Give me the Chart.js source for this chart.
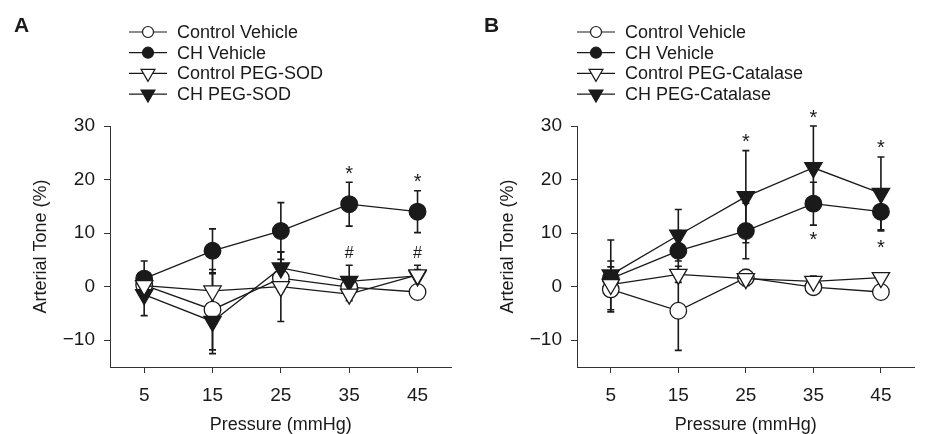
<!DOCTYPE html>
<html>
<head>
<meta charset="utf-8">
<script src="https://cdn.jsdelivr.net/npm/chart.js@4.4.0/dist/chart.umd.min.js"></script>
<style>
  html, body { margin: 0; padding: 0; background: #fff; }
  body { width: 926px; height: 434px; position: relative; overflow: hidden; }
  .panel { position: absolute; top: 0; height: 434px; }
  #panelA { left: 0; width: 463px; }
  #panelB { left: 467px; width: 459px; }
</style>
</head>
<body>
<div class="panel" id="panelA"><canvas id="chartA" width="463" height="434"></canvas></div>
<div class="panel" id="panelB"><canvas id="chartB" width="459" height="434"></canvas></div>
<script>
// Données
const pressures = [5, 15, 25, 35, 45];
const xTicks = [5, 15, 25, 35, 45];
const yTicks = [-10, 0, 10, 20, 30];

// Panneau A
const aControlVehicle = [0.3, -4.3, 1.6, -0.1, -1.0];
const aControlVehicleErr = [1.5, 7.5, 2.5, 1.5, 0.8];
const aChVehicle = [1.5, 6.7, 10.4, 15.4, 14.0];
const aChVehicleErr = [3.3, 4.1, 5.3, 4.1, 3.9];
const aControlSod = [0.2, -0.8, 0.0, -1.4, 2.2];
const aControlSodErr = [1.2, 3.2, 6.5, 1.2, 1.0];
const aChSod = [-1.5, -6.5, 3.5, 1.0, 2.0];
const aChSodErr = [3.9, 6.0, 3.0, 3.0, 2.0];
const aMarkX = [35, 45, 35, 45];
const aMarkY = [21.8, 20.2, 6.4, 6.4];
const aMarkText = ['*', '*', '#', '#'];

// Panneau B
const bControlVehicle = [-0.5, -4.5, 1.7, -0.1, -1.0];
const bControlVehicleErr = [4.2, 7.4, 1.5, 1.0, 0.5];
const bChVehicle = [1.5, 6.7, 10.4, 15.5, 14.0];
const bChVehicleErr = [3.3, 3.8, 5.2, 4.0, 3.6];
const bControlCat = [0.4, 2.3, 1.5, 1.0, 1.7];
const bControlCatErr = [1.5, 1.5, 1.0, 1.0, 0.4];
const bChCat = [2.2, 9.6, 16.8, 22.2, 17.4];
const bChCatErr = [6.5, 4.8, 8.6, 7.8, 6.8];
const bMarkX = [25, 35, 35, 45, 45];
const bMarkY = [27.7, 32.2, 9.5, 26.6, 7.9];
const bMarkText = ['*', '*', '*', '*', '*'];

const fontFamily = "'Liberation Sans', Arial, sans-serif";
const ink = '#1a1a1a';
Chart.defaults.font.family = fontFamily;

// Barres d'erreur (sous les courbes)
const errorBarPlugin = {
  id: 'errorBars',
  beforeDatasetsDraw(chart) {
    const ctx = chart.ctx;
    const yScale = chart.scales.y;
    ctx.save();
    ctx.strokeStyle = ink;
    ctx.lineWidth = 1.6;
    chart.data.datasets.forEach((ds, i) => {
      const meta = chart.getDatasetMeta(i);
      meta.data.forEach((pt, j) => {
        const v = ds.data[j].y;
        const err = ds.errors[j];
        const yTop = yScale.getPixelForValue(v + err);
        const yBot = yScale.getPixelForValue(v - err);
        ctx.beginPath();
        ctx.moveTo(pt.x, yTop);
        ctx.lineTo(pt.x, yBot);
        ctx.moveTo(pt.x - 3.5, yTop);
        ctx.lineTo(pt.x + 3.5, yTop);
        ctx.moveTo(pt.x - 3.5, yBot);
        ctx.lineTo(pt.x + 3.5, yBot);
        ctx.stroke();
      });
    });
    ctx.restore();
  }
};

// Astérisques et dièses de significativité
const sigMarkPlugin = {
  id: 'sigMarks',
  afterDatasetsDraw(chart, args, opts) {
    const ctx = chart.ctx;
    ctx.save();
    ctx.fillStyle = ink;
    ctx.textAlign = 'center';
    ctx.textBaseline = 'alphabetic';
    opts.x.forEach((xv, k) => {
      const t = opts.text[k];
      ctx.font = (t === '#' ? '16px ' : '20px ') + fontFamily;
      const m = ctx.measureText(t);
      const cx = chart.scales.x.getPixelForValue(xv);
      const cy = chart.scales.y.getPixelForValue(opts.y[k]);
      ctx.fillText(t, cx, cy + (m.actualBoundingBoxAscent - m.actualBoundingBoxDescent) / 2);
    });
    ctx.restore();
  }
};

// Légende avec trait et symbole, plus la lettre du panneau
const symbolLegendPlugin = {
  id: 'symbolLegend',
  afterDraw(chart, args, opts) {
    const ctx = chart.ctx;
    ctx.save();
    ctx.fillStyle = ink;
    ctx.font = 'bold 21px ' + fontFamily;
    ctx.textAlign = 'left';
    ctx.textBaseline = 'middle';
    ctx.fillText(opts.panel, opts.panelX, opts.panelY);

    ctx.font = '18px ' + fontFamily;
    chart.data.datasets.forEach((ds, i) => {
      const y = opts.y + i * opts.step;
      ctx.strokeStyle = ink;
      ctx.lineWidth = 1.2;
      ctx.beginPath();
      ctx.moveTo(opts.x, y);
      ctx.lineTo(opts.x + 38, y);
      ctx.stroke();
      ctx.fillStyle = ds.pointBackgroundColor;
      ctx.strokeStyle = ink;
      ctx.lineWidth = 1.2;
      Chart.helpers.drawPoint(ctx, {
        pointStyle: ds.pointStyle,
        rotation: ds.pointRotation || 0,
        radius: ds.pointStyle === 'circle' ? 5.5 : 8,
        borderWidth: 1.2
      }, opts.x + 19, y);
      ctx.fillStyle = ink;
      ctx.fillText(ds.label, opts.x + 48, y + 1);
    });
    ctx.restore();
  }
};

function makeSeries(label, values, errors, style, filled, order) {
  const isTri = style === 'triangle';
  return {
    label: label,
    data: pressures.map((p, i) => ({ x: p, y: values[i] })),
    errors: errors,
    borderColor: ink,
    borderWidth: 1.3,
    tension: 0,
    fill: false,
    clip: false,
    order: order,
    pointStyle: style,
    pointRotation: isTri ? 180 : 0,
    pointRadius: isTri ? 10 : 8.3,
    pointBackgroundColor: filled ? ink : '#ffffff',
    pointBorderColor: ink,
    pointBorderWidth: 1.3
  };
}

function makeChart(canvasId, datasets, marks, legendOpts, rightPad) {
  return new Chart(document.getElementById(canvasId), {
    type: 'line',
    data: { datasets: datasets },
    options: {
      responsive: false,
      animation: false,
      layout: { padding: { left: 0, top: 126, right: rightPad, bottom: 0 } },
      plugins: {
        legend: { display: false },
        tooltip: { enabled: false },
        sigMarks: marks,
        symbolLegend: legendOpts
      },
      scales: {
        x: {
          type: 'linear',
          min: 0,
          max: 50,
          afterBuildTicks: function (scale) {
            scale.ticks = xTicks.map(v => ({ value: v }));
          },
          afterFit: function (scale) { scale.height = 67; },
          grid: { drawOnChartArea: false, drawTicks: true, tickLength: 6, color: '#333' },
          border: { display: true, color: '#333', width: 1 },
          ticks: { color: ink, font: { size: 19 }, padding: 11, maxRotation: 0 },
          title: {
            display: true,
            text: 'Pressure (mmHg)',
            color: ink,
            font: { size: 18 },
            padding: { top: 0, bottom: -2 }
          }
        },
        y: {
          min: -15,
          max: 30,
          afterBuildTicks: function (scale) {
            scale.ticks = yTicks.map(v => ({ value: v }));
          },
          afterFit: function (scale) { scale.width = 110; },
          grid: { drawOnChartArea: false, drawTicks: true, tickLength: 6, color: '#333' },
          border: { display: true, color: '#333', width: 1 },
          ticks: {
            color: ink,
            font: { size: 19 },
            padding: 9,
            callback: function (value) {
              return String(value).replace('-', '\u2212');
            }
          },
          title: {
            display: true,
            text: 'Arterial Tone (%)',
            color: ink,
            font: { size: 18 },
            padding: { top: 30, bottom: 0 }
          }
        }
      }
    },
    plugins: [errorBarPlugin, sigMarkPlugin, symbolLegendPlugin]
  });
}

makeChart('chartA', [
  makeSeries('Control Vehicle', aControlVehicle, aControlVehicleErr, 'circle', false, 3),
  makeSeries('CH Vehicle', aChVehicle, aChVehicleErr, 'circle', true, 2),
  makeSeries('Control PEG-SOD', aControlSod, aControlSodErr, 'triangle', false, 0),
  makeSeries('CH PEG-SOD', aChSod, aChSodErr, 'triangle', true, 1)
], { x: aMarkX, y: aMarkY, text: aMarkText },
{ panel: 'A', panelX: 14, panelY: 26, x: 129, y: 32, step: 20.7 }, 7);

makeChart('chartB', [
  makeSeries('Control Vehicle', bControlVehicle, bControlVehicleErr, 'circle', false, 3),
  makeSeries('CH Vehicle', bChVehicle, bChVehicleErr, 'circle', true, 2),
  makeSeries('Control PEG-Catalase', bControlCat, bControlCatErr, 'triangle', false, 0),
  makeSeries('CH PEG-Catalase', bChCat, bChCatErr, 'triangle', true, 1)
], { x: bMarkX, y: bMarkY, text: bMarkText },
{ panel: 'B', panelX: 17, panelY: 26, x: 110, y: 32, step: 20.7 }, 4);
</script>
</body>
</html>
